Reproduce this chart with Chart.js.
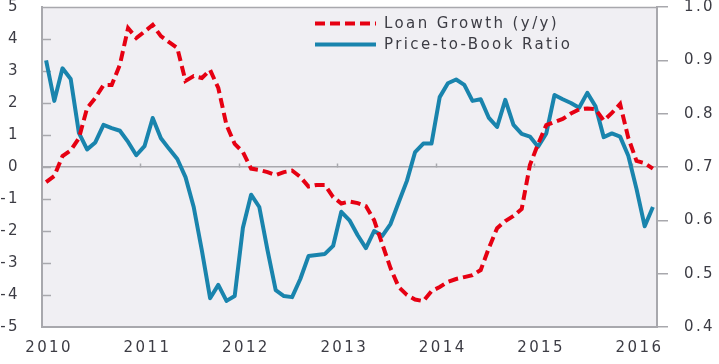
<!DOCTYPE html>
<html><head><meta charset="utf-8">
<script src="https://cdn.jsdelivr.net/npm/chart.js@4.4.1/dist/chart.umd.min.js"></script>
<style>html,body{margin:0;padding:0;background:#fff}#wrap{width:719px;height:364px;position:relative}</style>
</head><body><div id="wrap"><canvas id="c"></canvas></div>
<script>
// Monthly observations, Jan 2010 - Mar 2016
const seriesNames = ['Loan Growth (y/y)', 'Price-to-Book Ratio'];
const loanGrowth = [
 -0.47,-0.28,0.34,0.52,0.9,1.84,2.16,2.56,2.56,3.2,
 4.34,4.03,4.23,4.44,4.09,3.9,3.72,2.69,2.84,2.78,
 3.03,2.47,1.31,0.72,0.47,-0.05,-0.09,-0.16,-0.25,-0.16,
 -0.11,-0.31,-0.61,-0.56,-0.56,-0.94,-1.14,-1.08,-1.13,-1.22,
 -1.66,-2.41,-3.16,-3.75,-4.0,-4.14,-4.19,-3.88,-3.75,-3.59,
 -3.5,-3.44,-3.38,-3.22,-2.53,-1.91,-1.69,-1.53,-1.31,0.06,
 0.72,1.31,1.41,1.5,1.67,1.8,1.83,1.81,1.45,1.69,
 1.97,0.91,0.19,0.12,-0.05];
const priceToBook = [
 0.90,0.824,0.885,0.865,0.764,0.733,0.746,0.779,0.773,0.768,
 0.747,0.722,0.739,0.792,0.754,0.734,0.715,0.681,0.625,0.543,
 0.454,0.479,0.449,0.458,0.586,0.648,0.625,0.544,0.469,0.458,
 0.456,0.49,0.533,0.535,0.537,0.552,0.616,0.60,0.572,0.548,
 0.58,0.571,0.593,0.634,0.674,0.728,0.744,0.744,0.831,0.857,
 0.864,0.854,0.824,0.827,0.792,0.775,0.826,0.779,0.762,0.757,
 0.738,0.763,0.835,0.827,0.82,0.811,0.839,0.814,0.756,0.763,
 0.757,0.721,0.659,0.589,0.625];
const yearLabels = ['2010','2011','2012','2013','2014','2015','2016'];
const leftRange = [-5, 5];
const rightRange = [0.4, 1.0];

const months = [];
for (let i = 0; i < loanGrowth.length; i++) {
  const y = 2010 + Math.floor(i / 12), m = (i % 12) + 1;
  months.push(y + '-' + String(m).padStart(2, '0'));
}

const FONT = "'DejaVu Sans', sans-serif";
const TXT = '#3c3c44';
const AXIS = '#a8a8ad';
const RED = '#e60012';
const BLUE = '#1984ad';
const SPACING = '2.4px';

const spacingPlugin = {
  id: 'spacing',
  beforeUpdate(chart) { chart.ctx.letterSpacing = SPACING; },
  beforeDraw(chart) { chart.ctx.letterSpacing = SPACING; }
};

const framePlugin = {
  id: 'frame',
  beforeDraw(chart) {
    const {ctx, chartArea: a} = chart;
    ctx.save();
    ctx.fillStyle = '#f0eff3';
    ctx.fillRect(a.left, a.top, a.right - a.left, a.bottom - a.top);
    ctx.restore();
  },
  beforeDatasetsDraw(chart) {
    const {ctx, chartArea: a, scales} = chart;
    const yl = scales.y, xs = scales.x;
    ctx.save();
    ctx.strokeStyle = AXIS;
    ctx.lineWidth = 1.5;
    ctx.beginPath(); ctx.moveTo(a.left, a.top + 0.5); ctx.lineTo(a.right, a.top + 0.5); ctx.stroke();
    for (let v = leftRange[0] + 1; v < leftRange[1]; v++) {
      const py = Math.round(yl.getPixelForValue(v)) + 0.5;
      ctx.beginPath(); ctx.moveTo(a.left, py); ctx.lineTo(a.left + 9, py); ctx.stroke();
    }
    const y0 = Math.round(yl.getPixelForValue(0)) + 0.5;
    const half = (xs.getPixelForValue(1) - xs.getPixelForValue(0)) / 2;
    for (let i = 12; i < months.length; i += 12) {
      const px = Math.round(xs.getPixelForValue(i) - half) + 0.5;
      ctx.beginPath(); ctx.moveTo(px, y0); ctx.lineTo(px, y0 - 4); ctx.stroke();
    }
    ctx.restore();
  }
};

const legendPlugin = {
  id: 'innerLegend',
  afterDraw(chart) {
    const {ctx} = chart;
    const rows = [{y: 23.5}, {y: 44.5}];
    ctx.save();
    ctx.letterSpacing = SPACING;
    ctx.font = '15px ' + FONT;
    ctx.textBaseline = 'middle';
    ctx.textAlign = 'left';
    chart.data.datasets.forEach((ds, i) => {
      const y = rows[i].y;
      ctx.strokeStyle = ds.borderColor;
      ctx.lineWidth = ds.borderWidth;
      ctx.setLineDash(ds.borderDash || []);
      ctx.lineCap = 'butt';
      ctx.beginPath(); ctx.moveTo(315, y); ctx.lineTo(376, y); ctx.stroke();
      ctx.setLineDash([]);
      ctx.fillStyle = TXT;
      ctx.fillText(ds.label, 384, y + 0.5);
    });
    ctx.restore();
  }
};

const fixV = w => s => { s.width = w; s.paddingTop = 0; s.paddingBottom = 0; };

new Chart(document.getElementById('c'), {
  type: 'line',
  data: {
    labels: months,
    datasets: [
      { label: seriesNames[0], data: loanGrowth, yAxisID: 'y', borderColor: RED, borderWidth: 4,
        borderDash: [10, 5], pointRadius: 0, tension: 0, fill: false, borderCapStyle: 'butt' },
      { label: seriesNames[1], data: priceToBook, yAxisID: 'y1', borderColor: BLUE, borderWidth: 4,
        pointRadius: 0, tension: 0, fill: false, borderJoinStyle: 'round' }
    ]
  },
  options: {
    responsive: true,
    maintainAspectRatio: false,
    animation: false,
    layout: { padding: { top: 7, left: 0, right: 0, bottom: 0 } },
    plugins: { legend: { display: false }, tooltip: { enabled: false } },
    scales: {
      x: {
        type: 'category',
        offset: true,
        grid: { display: false, drawTicks: false },
        border: { display: true, color: AXIS, width: 2 },
        ticks: {
          autoSkip: false, maxRotation: 0, minRotation: 0, padding: 12, labelOffset: 3,
          color: TXT, font: { family: FONT, size: 15 },
          callback: (v, i) => (i % 12 === 0 ? yearLabels[i / 12] : '')
        },
        afterFit: s => { s.height = 37; s.paddingLeft = 0; s.paddingRight = 0; }
      },
      y: {
        position: 'left', min: leftRange[0], max: leftRange[1],
        grid: { drawTicks: false, drawOnChartArea: true, lineWidth: 1.5,
          color: c => (c.tick && c.tick.value === 0 ? AXIS : 'rgba(0,0,0,0)') },
        border: { display: true, color: AXIS, width: 2 },
        ticks: { stepSize: 1, padding: 22, color: TXT, font: { family: FONT, size: 15 } },
        afterFit: fixV(42)
      },
      y1: {
        position: 'right', min: rightRange[0], max: rightRange[1],
        grid: { drawOnChartArea: false, drawTicks: true, tickLength: 11, color: AXIS, lineWidth: 1.5 },
        border: { display: true, color: AXIS, width: 2 },
        ticks: { stepSize: 0.1, padding: 16, color: TXT, font: { family: FONT, size: 15 },
          callback: v => Number(v).toFixed(1) },
        afterFit: fixV(62)
      }
    }
  },
  plugins: [spacingPlugin, framePlugin, legendPlugin]
});
</script>
</body></html>
